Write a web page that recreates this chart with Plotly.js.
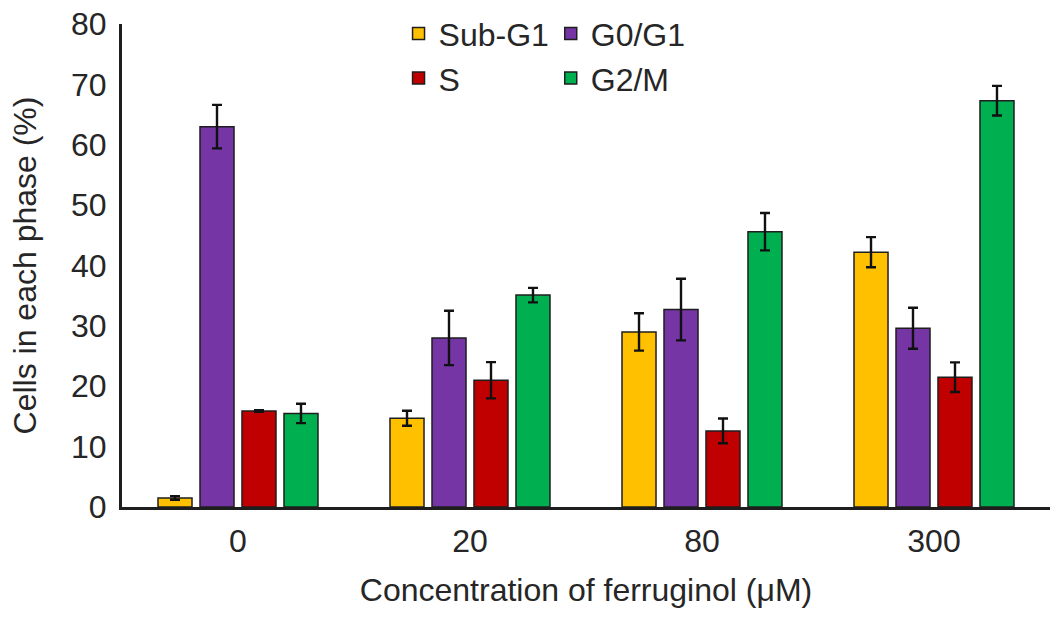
<!DOCTYPE html>
<html>
<head>
<meta charset="utf-8">
<script src="https://cdn.plot.ly/plotly-3.0.1.min.js"></script>
<style>
  html, body { margin: 0; padding: 0; background: #ffffff; }
  #plot { width: 1063px; height: 617px; }
</style>
</head>
<body>
<div id="plot"></div>
<script>
// concentrations of ferruginol (uM)
const concentrations = ["0", "20", "80", "300"];

const subG1 = [1.5, 14.7, 29.0, 42.2];
const subG1Err = [0.3, 1.25, 3.1, 2.5];
const g0g1 = [63.0, 28.0, 32.7, 29.6];
const g0g1Err = [3.6, 4.5, 5.1, 3.4];
const sPhase = [15.9, 21.0, 12.6, 21.5];
const sPhaseErr = [0.15, 3.0, 2.05, 2.45];
const g2m = [15.5, 35.1, 45.6, 67.3];
const g2mErr = [1.6, 1.2, 3.1, 2.45];

const yTicks = [0, 10, 20, 30, 40, 50, 60, 70, 80];

const TEXT = "#262626";
const FONT = "Liberation Sans, Arial, sans-serif";
const SIZE = 32;

function barTrace(name, values, errs, color, legend) {
  return {
    type: "bar",
    name,
    x: concentrations,
    y: values,
    legend,
    marker: { color, line: { color: "#1e1e1e", width: 1.5 } },
    error_y: { type: "data", array: errs, visible: true, color: "#111111", thickness: 2.4, width: 5 },
    hoverinfo: "x+y+name",
  };
}

const traces = [
  barTrace("Sub-G1", subG1, subG1Err, "#FFC000", "legend"),
  barTrace("G0/G1", g0g1, g0g1Err, "#7535A5", "legend2"),
  barTrace("S", sPhase, sPhaseErr, "#C00000", "legend"),
  barTrace("G2/M", g2m, g2mErr, "#00B050", "legend2"),
];

const legendBase = {
  orientation: "v",
  bgcolor: "rgba(0,0,0,0)",
  font: { family: FONT, size: SIZE, color: TEXT },
  yanchor: "top",
  y: 1.037,
  xanchor: "left",
  tracegroupgap: 0,
};

const layout = {
  width: 1063,
  height: 617,
  paper_bgcolor: "#ffffff",
  plot_bgcolor: "#ffffff",
  font: { family: FONT, size: SIZE, color: TEXT },
  margin: { l: 122, r: 13, t: 24, b: 110, autoexpand: false },
  barmode: "group",
  bargap: 0.276,
  bargroupgap: 0.19,
  showlegend: true,
  legend: { ...legendBase, x: 0.298 },
  legend2: { ...legendBase, x: 0.462 },
  xaxis: {
    type: "category",
    showline: true,
    linecolor: "#1e1e1e",
    linewidth: 3,
    ticks: "",
    showgrid: false,
    zeroline: false,
    ticklabelstandoff: 4,
    tickfont: { family: FONT, size: SIZE, color: TEXT },
    title: {
      text: "Concentration of ferruginol (μM)",
      font: { family: FONT, size: SIZE, color: TEXT },
      standoff: 21,
    },
  },
  yaxis: {
    range: [0, 80],
    tickvals: yTicks,
    showline: true,
    linecolor: "#1e1e1e",
    linewidth: 3,
    ticks: "",
    showgrid: false,
    zeroline: false,
    ticklabelstandoff: 6,
    tickfont: { family: FONT, size: SIZE, color: TEXT },
    title: {
      text: "Cells in each phase (%)",
      font: { family: FONT, size: SIZE, color: TEXT },
      standoff: 25,
    },
  },
};

Plotly.newPlot("plot", traces, layout, { displayModeBar: false, staticPlot: true });
</script>
</body>
</html>
